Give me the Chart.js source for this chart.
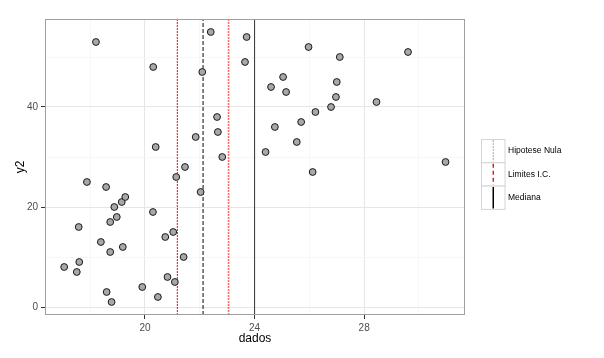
<!DOCTYPE html>
<html><head><meta charset="utf-8">
<script src="https://cdn.jsdelivr.net/npm/chart.js@4/dist/chart.umd.min.js"></script>
<style>html,body{margin:0;padding:0;background:#fff}#wrap{position:relative;width:604px;height:358px}</style>
</head><body><div id="wrap"><canvas id="c" width="604" height="358"></canvas></div>
<script>
// ---- data ----
const yValues = [1,2,3,4,5,6,7,8,9,10,11,12,13,14,15,16,17,18,19,20,21,22,23,24,25,26,27,28,29,30,31,32,33,34,35,36,37,38,39,40,41,42,43,44,45,46,47,48,49,50,51,52,53,54,55];
const xValues = [18.78,20.47,18.60,19.90,21.09,20.82,17.51,17.05,17.60,21.41,18.73,19.19,18.39,20.74,21.03,17.58,18.73,18.97,20.29,18.88,19.15,19.28,22.03,18.58,17.88,21.14,26.12,21.46,30.97,22.82,24.40,20.39,25.54,21.85,22.66,24.74,25.70,22.63,26.22,26.79,28.45,26.97,25.15,24.60,27.00,25.04,22.09,20.30,23.65,27.11,29.60,25.97,18.21,23.71,22.40];
const refValues = [21.18, 22.12, 23.05, 24.0];   // IC lower, null hypothesis, IC upper, median
const legendLabels = ['Hipotese Nula', 'Limites I.C.', 'Mediana'];
const xTicks = [18,20,22,24,26,28,30];
const xLabeled = [20,24,28];
const yTicks = [0,10,20,30,40,50];
const yLabeled = [0,20,40];
const xRange = [16.35, 31.68];
const yRange = [-1.6, 57.6];

// ---- styles ----
const FONT = '"Liberation Sans", Arial, Helvetica, sans-serif';
const refStyles = [
  {color:'#ff0000', dash:[2,1], width:1},
  {color:'#333333', dash:[4,2], width:1.2},
  {color:'rgba(255,60,60,0.75)', dash:[2,1], width:1.6},
  {color:'#333333', dash:[], width:1}
];

const points = xValues.map((x,i)=>({x:x, y:yValues[i]}));
const datasets = [{
  type:'scatter', data:points, order:0,
  pointRadius:3.4, pointHoverRadius:3.4,
  pointBackgroundColor:'#a8a8a8', pointBorderColor:'#1a1a1a', pointBorderWidth:1
}];
refValues.forEach((v,i)=>{
  const s = refStyles[i];
  datasets.push({
    type:'line', order:1,
    data:[{x:v,y:yRange[0]},{x:v,y:yRange[1]}],
    borderColor:s.color, borderDash:s.dash, borderWidth:s.width,
    pointRadius:0, fill:false, tension:0
  });
});

const panelAndLegend = {
  id:'panelAndLegend',
  afterDraw(chart){
    const {ctx, chartArea:a} = chart;
    ctx.save();
    ctx.strokeStyle = '#a0a0a0';
    ctx.lineWidth = 1;
    ctx.strokeRect(Math.round(a.left)+0.5, Math.round(a.top)+0.5, Math.round(a.right-a.left)-1, Math.round(a.bottom-a.top)-1);
    // legend
    const kx = 481.5, kw = 23.5, ky0 = 139.5, kh = 23.3;
    const keyStyles = [
      {color:'#555555', dash:[1,2], width:1},
      {color:'#e00000', dash:[4,3], width:1.3},
      {color:'#000000', dash:[], width:1.5}
    ];
    legendLabels.forEach((lab,i)=>{
      const y = ky0 + i*kh;
      ctx.fillStyle = '#ffffff';
      ctx.fillRect(kx, y, kw, kh);
      ctx.strokeStyle = '#d4d4d4';
      ctx.lineWidth = 1;
      ctx.setLineDash([]);
      ctx.strokeRect(kx, y, kw, kh);
      const st = keyStyles[i];
      ctx.strokeStyle = st.color;
      ctx.lineWidth = st.width;
      ctx.setLineDash(st.dash);
      ctx.beginPath();
      ctx.moveTo(kx + kw/2, y + 1);
      ctx.lineTo(kx + kw/2, y + kh - 1);
      ctx.stroke();
      ctx.setLineDash([]);
      ctx.fillStyle = '#000000';
      ctx.font = '8.5px ' + FONT;
      ctx.textAlign = 'left';
      ctx.textBaseline = 'middle';
      ctx.fillText(lab, 508, y + kh/2);
    });
    ctx.restore();
  }
};

new Chart(document.getElementById('c'), {
  data:{datasets},
  options:{
    responsive:false, animation:false, devicePixelRatio:1,
    layout:{padding:{left:0, top:19, right:139, bottom:0}},
    plugins:{legend:{display:false}, tooltip:{enabled:false}},
    scales:{
      x:{
        type:'linear', min:xRange[0], max:xRange[1],
        afterBuildTicks:s=>{ s.ticks = xTicks.map(v=>({value:v})); },
        afterFit:s=>{ s.height = 43; },
        border:{display:false},
        grid:{
          color:c=> xLabeled.includes(c.tick && c.tick.value) ? '#e6e6e6' : '#f5f5f5',
          lineWidth:c=> xLabeled.includes(c.tick && c.tick.value) ? 1 : 0.8,
          tickColor:c=> xLabeled.includes(c.tick && c.tick.value) ? '#333333' : 'rgba(0,0,0,0)',
          tickLength:4, drawTicks:true
        },
        ticks:{
          autoSkip:false, maxRotation:0, padding:3, color:'#4d4d4d',
          font:{family:FONT, size:10},
          callback:v=> xLabeled.includes(v) ? String(v) : ''
        },
        title:{display:true, text:'dados', color:'#000', font:{family:FONT, size:12}, padding:{top:0, bottom:12}}
      },
      y:{
        type:'linear', min:yRange[0], max:yRange[1],
        afterBuildTicks:s=>{ s.ticks = yTicks.map(v=>({value:v})); },
        afterFit:s=>{ s.width = 45; },
        border:{display:false},
        grid:{
          color:c=> yLabeled.includes(c.tick && c.tick.value) ? '#e6e6e6' : '#f5f5f5',
          lineWidth:c=> yLabeled.includes(c.tick && c.tick.value) ? 1 : 0.8,
          tickColor:c=> yLabeled.includes(c.tick && c.tick.value) ? '#333333' : 'rgba(0,0,0,0)',
          tickLength:4, drawTicks:true
        },
        ticks:{
          autoSkip:false, padding:3, color:'#4d4d4d',
          font:{family:FONT, size:10},
          callback:v=> yLabeled.includes(v) ? String(v) : ''
        },
        title:{display:true, text:'y2', color:'#000', font:{family:FONT, size:12}, padding:{top:13, bottom:0}}
      }
    }
  },
  plugins:[panelAndLegend]
});
</script>
</body></html>
